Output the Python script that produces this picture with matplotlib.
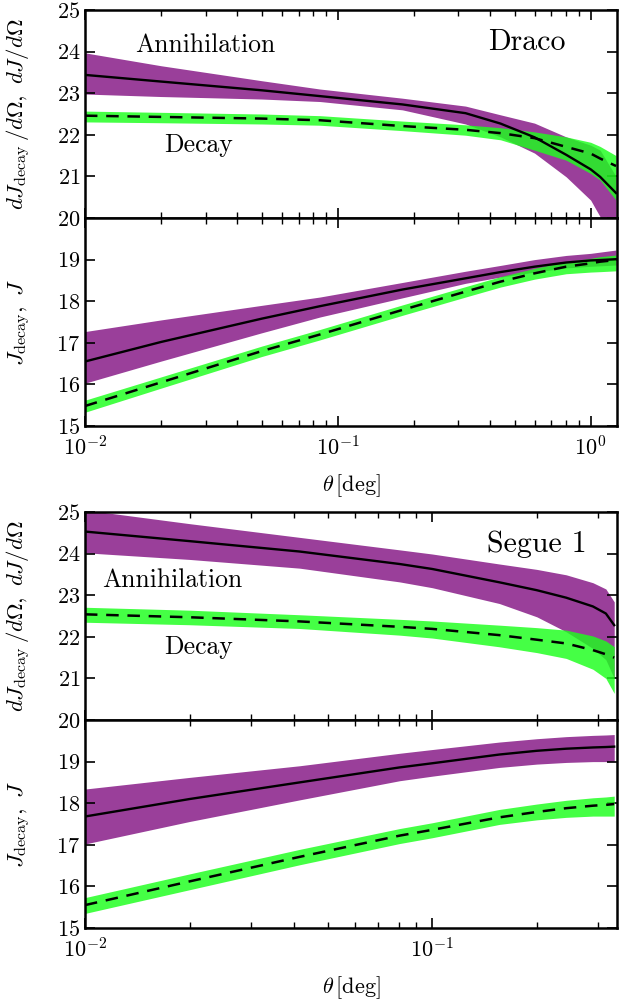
import matplotlib
matplotlib.use('Agg')
import matplotlib.pyplot as plt
import numpy as np
from matplotlib.ticker import LogLocator, NullFormatter

plt.rcParams['font.family'] = ['cmr10', 'DejaVu Serif']
plt.rcParams['mathtext.fontset'] = 'cm'
plt.rcParams['axes.formatter.use_mathtext'] = True
plt.rcParams['axes.unicode_minus'] = False

PURPLE = '#9a3f9a'
GREEN = '#1cff1c'

# Draco
draco_theta = [0.01, 0.02, 0.05, 0.085, 0.18, 0.32, 0.44, 0.6, 0.8, 1.0, 1.09, 1.26]
draco_dann_mid = [23.44, 23.28, 23.07, 22.93, 22.73, 22.52, 22.27, 21.94, 21.52, 21.17, 20.99, 20.60]
draco_dann_hi = [23.97, 23.66, 23.30, 23.10, 22.88, 22.69, 22.48, 22.28, 21.95, 21.75, 21.63, 21.00]
draco_dann_lo = [22.98, 22.92, 22.86, 22.80, 22.60, 22.26, 21.95, 21.56, 20.99, 20.43, 20.03, 19.40]
draco_ddec_mid = [22.46, 22.43, 22.39, 22.35, 22.21, 22.12, 22.04, 21.92, 21.71, 21.55, 21.43, 21.25]
draco_ddec_hi = [22.57, 22.54, 22.50, 22.46, 22.33, 22.24, 22.17, 22.07, 21.95, 21.82, 21.72, 21.50]
draco_ddec_lo = [22.31, 22.29, 22.26, 22.23, 22.10, 21.99, 21.88, 21.63, 21.39, 21.07, 20.91, 20.43]

draco_jann_mid = [16.55, 17.02, 17.58, 17.88, 18.28, 18.55, 18.70, 18.83, 18.93, 18.98, 18.99, 19.01]
draco_jann_hi = [17.27, 17.55, 17.90, 18.10, 18.45, 18.72, 18.86, 19.00, 19.10, 19.15, 19.18, 19.23]
draco_jann_lo = [16.03, 16.56, 17.24, 17.62, 18.08, 18.43, 18.58, 18.70, 18.80, 18.84, 18.85, 18.87]
draco_jdec_mid = [15.48, 16.05, 16.80, 17.20, 17.79, 18.23, 18.47, 18.67, 18.83, 18.91, 18.95, 18.99]
draco_jdec_hi = [15.62, 16.18, 16.92, 17.32, 17.91, 18.35, 18.59, 18.79, 18.95, 19.03, 19.07, 19.11]
draco_jdec_lo = [15.33, 15.91, 16.67, 17.07, 17.66, 18.10, 18.34, 18.53, 18.66, 18.70, 18.71, 18.73]

# Segue 1
segue_theta = [0.01, 0.02, 0.0415, 0.0805, 0.1, 0.156, 0.2, 0.243, 0.29, 0.316, 0.334]
segue_dann_mid = [24.53, 24.30, 24.05, 23.75, 23.63, 23.31, 23.12, 22.94, 22.73, 22.56, 22.28]
segue_dann_hi = [25.05, 24.72, 24.39, 24.09, 23.99, 23.75, 23.62, 23.49, 23.30, 23.15, 22.84]
segue_dann_lo = [24.02, 23.86, 23.65, 23.32, 23.18, 22.80, 22.48, 22.12, 21.72, 21.45, 21.00]
segue_ddec_mid = [22.54, 22.47, 22.37, 22.24, 22.19, 22.04, 21.93, 21.84, 21.68, 21.58, 21.50]
segue_ddec_hi = [22.71, 22.64, 22.53, 22.42, 22.38, 22.28, 22.22, 22.16, 22.02, 21.90, 21.76]
segue_ddec_lo = [22.35, 22.29, 22.20, 22.04, 21.97, 21.76, 21.62, 21.48, 21.22, 21.00, 20.64]

segue_jann_mid = [17.68, 18.10, 18.50, 18.86, 18.96, 19.17, 19.26, 19.31, 19.34, 19.35, 19.36]
segue_jann_hi = [18.34, 18.62, 18.90, 19.20, 19.29, 19.47, 19.55, 19.60, 19.63, 19.64, 19.65]
segue_jann_lo = [17.02, 17.56, 18.08, 18.54, 18.65, 18.86, 18.94, 18.98, 19.00, 19.00, 19.00]
segue_jdec_mid = [15.55, 16.12, 16.71, 17.22, 17.36, 17.66, 17.79, 17.88, 17.94, 17.96, 17.98]
segue_jdec_hi = [15.73, 16.30, 16.89, 17.39, 17.53, 17.85, 17.98, 18.07, 18.13, 18.15, 18.17]
segue_jdec_lo = [15.35, 15.92, 16.52, 17.03, 17.17, 17.49, 17.60, 17.66, 17.69, 17.69, 17.69]


def style_axes(ax, xmax, ylim, yticks, show_xlabels):
    ax.set_xscale('log')
    ax.set_xlim(0.01, xmax)
    ax.set_ylim(*ylim)
    ax.set_yticks(yticks)
    ax.xaxis.set_major_locator(LogLocator(base=10))
    ax.xaxis.set_minor_locator(LogLocator(base=10, subs=np.arange(2, 10)))
    ax.xaxis.set_minor_formatter(NullFormatter())
    ax.tick_params(which='both', direction='in', top=True, right=True, labelsize=16)
    ax.tick_params(which='major', length=7, width=1.2)
    ax.tick_params(which='minor', length=4, width=1.0)
    ax.tick_params(axis='x', which='major', pad=7)
    if not show_xlabels:
        ax.tick_params(axis='x', labelbottom=False)
    for s in ax.spines.values():
        s.set_linewidth(1.8)


def draw_bands(ax, theta, ann, dec):
    ax.fill_between(theta, ann[1], ann[2], color=PURPLE, lw=0, zorder=1)
    ax.fill_between(theta, dec[1], dec[2], color=GREEN, alpha=0.82, lw=0, zorder=2)
    ax.plot(theta, ann[0], color='black', lw=1.7, zorder=3)
    line, = ax.plot(theta, dec[0], color='black', lw=1.8, zorder=3)
    line.set_dashes((5, 3.5))


def main():
    fig = plt.figure(figsize=(6.2, 10), dpi=100)
    left, width, h = 0.137, 0.858, 0.208
    ax1 = fig.add_axes([left, 0.782, width, h])
    ax2 = fig.add_axes([left, 0.574, width, h])
    ax3 = fig.add_axes([left, 0.280, width, h])
    ax4 = fig.add_axes([left, 0.072, width, h])

    draw_bands(ax1, draco_theta, (draco_dann_mid, draco_dann_hi, draco_dann_lo),
               (draco_ddec_mid, draco_ddec_hi, draco_ddec_lo))
    draw_bands(ax2, draco_theta, (draco_jann_mid, draco_jann_hi, draco_jann_lo),
               (draco_jdec_mid, draco_jdec_hi, draco_jdec_lo))
    draw_bands(ax3, segue_theta, (segue_dann_mid, segue_dann_hi, segue_dann_lo),
               (segue_ddec_mid, segue_ddec_hi, segue_ddec_lo))
    draw_bands(ax4, segue_theta, (segue_jann_mid, segue_jann_hi, segue_jann_lo),
               (segue_jdec_mid, segue_jdec_hi, segue_jdec_lo))

    style_axes(ax1, 1.27, (20, 25), [20, 21, 22, 23, 24, 25], False)
    style_axes(ax2, 1.27, (15, 20), [15, 16, 17, 18, 19], True)
    style_axes(ax3, 0.34, (20, 25), [20, 21, 22, 23, 24, 25], False)
    style_axes(ax4, 0.34, (15, 20), [15, 16, 17, 18, 19], True)

    dlabel = r'$dJ_{\rm decay}\,/d\Omega,\ dJ/d\Omega$'
    jlabel = r'$J_{\rm decay},\ J$'
    for ax in (ax1, ax3):
        ax.set_ylabel(dlabel, fontsize=16.5)
        ax.yaxis.set_label_coords(-0.097, 0.5)
    for ax in (ax2, ax4):
        ax.set_ylabel(jlabel, fontsize=16.5)
        ax.yaxis.set_label_coords(-0.097, 0.5)
        ax.set_xlabel(r'$\theta\,[{\rm deg}]$', fontsize=16, labelpad=9)

    ax1.text(0.226, 0.832, 'Annihilation', transform=ax1.transAxes, fontsize=18.5,
             ha='center', va='center')
    ax1.text(0.214, 0.351, 'Decay', transform=ax1.transAxes, fontsize=18.5,
             ha='center', va='center')
    ax1.text(0.83, 0.845, 'Draco', transform=ax1.transAxes, fontsize=21.5,
             ha='center', va='center')
    ax3.text(0.165, 0.673, 'Annihilation', transform=ax3.transAxes, fontsize=18.5,
             ha='center', va='center')
    ax3.text(0.214, 0.352, 'Decay', transform=ax3.transAxes, fontsize=18.5,
             ha='center', va='center')
    ax3.text(0.85, 0.845, 'Segue 1', transform=ax3.transAxes, fontsize=21.5,
             ha='center', va='center')

    fig.savefig('out.png', dpi=100)


if __name__ == '__main__':
    main()
